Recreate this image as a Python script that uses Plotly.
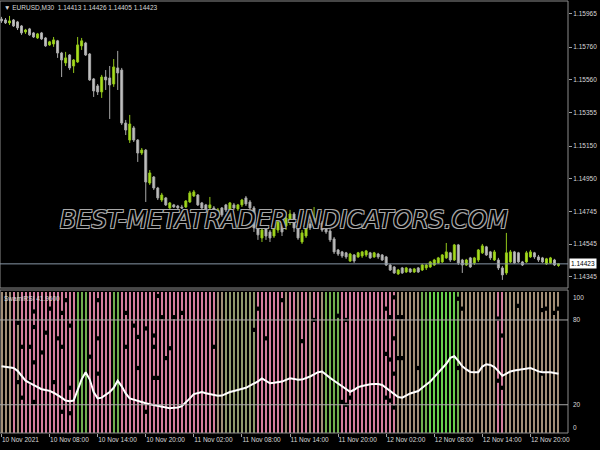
import plotly.graph_objects as go

# ---------------- data ----------------
opens = [1.15934,1.15928,1.15910,1.15928,1.15916,1.15891,1.15854,1.15873,1.15848,1.15817,
         1.15848,1.15817,1.15774,1.15780,1.15799,1.15724,1.15663,1.15712,1.15644,1.15669,
         1.15768,1.15786,1.15718,1.15564,1.15521,1.15484,1.15576,1.15570,1.15533,1.15632,
         1.15619,1.15292,1.15187,1.15262,1.15187,1.15107,1.15125,1.14922,1.14959,1.14891,
         1.14817,1.14830,1.14768,1.14787,1.14780,1.14774,1.14774,1.14805,1.14842,1.14848,
         1.14799,1.14787,1.14768,1.14768,1.14706,1.14768,1.14787,1.14756,1.14787,1.14762,
         1.14787,1.14830,1.14805,1.14768,1.14663,1.14583,1.14645,1.14620,1.14595,1.14632,
         1.14669,1.14657,1.14682,1.14731,1.14657,1.14558,1.14595,1.14669,1.14657,1.14682,
         1.14675,1.14663,1.14626,1.14577,1.14509,1.14497,1.14491,1.14441,1.14478,1.14466,
         1.14472,1.14478,1.14491,1.14466,1.14484,1.14478,1.14466,1.14416,1.14404,1.14361,
         1.14398,1.14373,1.14392,1.14373,1.14398,1.14385,1.14398,1.14404,1.14416,1.14429,
         1.14435,1.14460,1.14491,1.14447,1.14540,1.14447,1.14416,1.14460,1.14429,1.14447,
         1.14491,1.14528,1.14497,1.14447,1.14447,1.14398,1.14367,1.14435,1.14497,1.14491,
         1.14435,1.14435,1.14466,1.14491,1.14466,1.14460,1.14423,1.14429,1.14447,1.14413]
highs = [1.15947,1.15940,1.15953,1.15934,1.15922,1.15897,1.15873,1.15879,1.15854,1.15848,
         1.15854,1.15823,1.15799,1.15823,1.15805,1.15731,1.15731,1.15718,1.15687,1.15823,
         1.15817,1.15793,1.15724,1.15570,1.15533,1.15589,1.15619,1.15644,1.15687,1.15737,
         1.15632,1.15311,1.15342,1.15274,1.15193,1.15138,1.15132,1.15002,1.14965,1.14898,
         1.14861,1.14836,1.14805,1.14793,1.14787,1.14787,1.14817,1.14873,1.14879,1.14854,
         1.14805,1.14793,1.14836,1.14780,1.14768,1.14774,1.14793,1.14805,1.14799,1.14793,
         1.14824,1.14842,1.14817,1.14780,1.14682,1.14645,1.14657,1.14632,1.14669,1.14694,
         1.14682,1.14743,1.14756,1.14743,1.14669,1.14632,1.14669,1.14694,1.14774,1.14706,
         1.14688,1.14675,1.14639,1.14589,1.14515,1.14503,1.14497,1.14491,1.14484,1.14497,
         1.14503,1.14509,1.14497,1.14497,1.14491,1.14484,1.14472,1.14423,1.14410,1.14392,
         1.14404,1.14404,1.14398,1.14398,1.14404,1.14423,1.14423,1.14441,1.14454,1.14466,
         1.14484,1.14552,1.14497,1.14546,1.14546,1.14454,1.14454,1.14466,1.14466,1.14515,
         1.14546,1.14534,1.14503,1.14509,1.14460,1.14410,1.14614,1.14509,1.14503,1.14497,
         1.14441,1.14503,1.14509,1.14497,1.14478,1.14466,1.14460,1.14466,1.14454,1.14426]
lows = [1.15910,1.15903,1.15897,1.15885,1.15866,1.15836,1.15842,1.15830,1.15817,1.15811,
        1.15805,1.15762,1.15768,1.15762,1.15694,1.15576,1.15644,1.15619,1.15601,1.15663,
        1.15743,1.15706,1.15552,1.15453,1.15465,1.15447,1.15496,1.15317,1.15515,1.15496,
        1.15280,1.15218,1.15169,1.15175,1.15052,1.15095,1.14805,1.14910,1.14879,1.14817,
        1.14805,1.14780,1.14762,1.14768,1.14762,1.14762,1.14768,1.14799,1.14836,1.14780,
        1.14756,1.14750,1.14756,1.14737,1.14694,1.14713,1.14743,1.14743,1.14756,1.14750,
        1.14774,1.14780,1.14756,1.14620,1.14571,1.14558,1.14571,1.14558,1.14583,1.14614,
        1.14595,1.14632,1.14663,1.14620,1.14571,1.14546,1.14583,1.14632,1.14645,1.14639,
        1.14620,1.14608,1.14558,1.14484,1.14472,1.14460,1.14454,1.14435,1.14429,1.14460,
        1.14460,1.14466,1.14454,1.14460,1.14454,1.14441,1.14410,1.14379,1.14361,1.14355,
        1.14361,1.14367,1.14367,1.14367,1.14367,1.14379,1.14385,1.14398,1.14410,1.14423,
        1.14429,1.14454,1.14435,1.14441,1.14416,1.14367,1.14410,1.14398,1.14416,1.14435,
        1.14484,1.14472,1.14447,1.14441,1.14385,1.14324,1.14355,1.14429,1.14423,1.14429,
        1.14410,1.14429,1.14460,1.14454,1.14435,1.14429,1.14416,1.14423,1.14410,1.14405]
closes = [1.15922,1.15910,1.15922,1.15891,1.15879,1.15848,1.15866,1.15836,1.15823,1.15842,
          1.15811,1.15768,1.15793,1.15805,1.15724,1.15681,1.15694,1.15632,1.15681,1.15774,
          1.15799,1.15712,1.15558,1.15490,1.15484,1.15576,1.15558,1.15527,1.15638,1.15601,
          1.15292,1.15249,1.15286,1.15187,1.15107,1.15125,1.14928,1.14984,1.14891,1.14830,
          1.14848,1.14787,1.14799,1.14774,1.14768,1.14768,1.14811,1.14861,1.14867,1.14787,
          1.14768,1.14756,1.14787,1.14743,1.14756,1.14725,1.14756,1.14799,1.14768,1.14787,
          1.14817,1.14793,1.14768,1.14645,1.14602,1.14632,1.14595,1.14583,1.14657,1.14682,
          1.14620,1.14706,1.14731,1.14645,1.14583,1.14614,1.14657,1.14645,1.14706,1.14663,
          1.14632,1.14620,1.14571,1.14497,1.14484,1.14472,1.14466,1.14484,1.14441,1.14491,
          1.14497,1.14503,1.14460,1.14491,1.14466,1.14447,1.14416,1.14385,1.14367,1.14385,
          1.14367,1.14398,1.14373,1.14392,1.14373,1.14416,1.14416,1.14435,1.14447,1.14460,
          1.14478,1.14497,1.14447,1.14540,1.14429,1.14416,1.14447,1.14404,1.14460,1.14509,
          1.14534,1.14478,1.14460,1.14497,1.14398,1.14355,1.14491,1.14497,1.14429,1.14435,
          1.14416,1.14491,1.14497,1.14466,1.14447,1.14435,1.14454,1.14460,1.14416,1.14423]

swami_rsi = [47.3,47.0,46.5,46.0,44.0,40.5,37.0,35.5,34.0,32.0,
             31.0,30.5,29.8,28.5,27.0,25.0,23.0,22.5,23.0,30.0,
             38.0,43.0,38.0,29.0,24.5,25.0,27.3,29.0,32.0,37.0,
             33.0,28.0,24.5,23.5,22.5,21.8,21.0,20.3,19.8,19.2,
             18.6,17.9,17.6,17.8,18.1,19.0,21.5,24.5,27.5,28.5,
             29.0,28.2,27.5,27.0,26.3,26.5,27.8,29.0,29.7,30.5,
             31.2,32.0,33.5,34.8,36.5,38.6,37.0,35.2,35.5,35.8,
             36.4,37.6,38.7,38.3,37.7,37.8,38.8,40.0,41.5,43.0,
             43.5,41.0,39.0,37.0,35.0,33.5,31.2,29.2,30.6,32.5,
             33.3,34.0,34.5,34.6,34.6,34.0,32.0,29.8,27.5,25.5,
             25.0,26.5,28.0,28.8,29.7,32.0,34.2,36.5,39.5,42.7,
             46.0,49.0,53.2,54.3,51.0,47.2,45.0,43.2,43.0,43.0,
             47.0,48.7,48.2,46.6,43.8,40.5,42.0,43.6,44.2,44.7,
             45.1,45.5,46.0,44.8,43.6,43.0,43.0,43.0,42.4,41.96]

# stripe colour class per bar: P pink, T tan, O olive, G green, L lime
stripe_codes = ("TTT" "P" "T" "PPPPPPPPPPPPPP" "GGG" "PPPPPP" "GG"
                "PPPPPPPPPPPPPPPPPPPPPPPP" "TT" "OOOOOOOO" "PPPPPP" "PTPPTPPTPPT"
                "GGGG" "PPPPPPPPPPPPPP" "TTTTTT" "GG" "LLLLLLL" "G" "TTTTTTTTT" "PP"
                "TTTTTTTTTTTTTT")

# black gaps in the stripes (bar index, level)
gap_bars = [16, 24, 8, 12, 15, 17, 4, 8, 11, 14, 5, 7, 15, 10, 8, 22, 4, 7, 13, 17,
            5, 8, 15, 17, 39, 40, 43, 45, 31, 33, 36, 34, 38, 31, 38, 42, 41, 34, 38, 24,
            24, 36, 39, 98, 96, 97, 99, 100, 98, 96, 97, 99, 100, 98, 96, 97, 98, 114, 115, 129,
            135, 136, 138, 139, 124, 125, 124, 125, 114, 135, 104, 64, 63, 66, 53, 70, 75, 78,
            84, 86, 85, 86, 87]
gap_levels = [94, 94, 86, 88, 85, 76, 78, 75, 71, 67, 61, 61, 61, 57, 50, 54, 36, 36, 36, 32,
              25, 22, 15, 14, 97, 82, 82, 85, 85, 76, 74, 68, 69, 61, 61, 60, 53, 46, 39, 67,
              42, 15, 39, 96, 88, 82, 82, 82, 67, 56, 52, 53, 53, 42, 25, 23, 18, 95, 88, 90,
              87, 88, 85, 88, 81, 69, 37, 32, 46, 42, 46, 88, 73, 67, 61, 94, 65, 80,
              83, 80, 22, 20, 25]

time_tick_bars = [0, 12, 24, 36, 48, 60, 72, 84, 96, 108, 120, 132]
time_tick_labels = ["10 Nov 2021", "10 Nov 08:00", "10 Nov 14:00", "10 Nov 20:00",
                    "11 Nov 02:00", "11 Nov 08:00", "11 Nov 14:00", "11 Nov 20:00",
                    "12 Nov 02:00", "12 Nov 08:00", "12 Nov 14:00", "12 Nov 20:00"]
price_ticks = [1.15965, 1.15760, 1.15560, 1.15355, 1.15150, 1.14950, 1.14745, 1.14545, 1.14345]
rsi_levels = [80, 20]
rsi_labels = [100, 80, 20, 0]
last_price = 1.14423

# ---------------- styling ----------------
stripe_colors = {"P": "#d47e9d", "T": "#a28e78", "O": "#8f986c", "G": "#70ae4e", "L": "#68d04c"}
txt_col = "#d8d8d8"
fnt = "Liberation Sans"
fs = 6.5
n = len(closes)
bar_x = list(range(n))

fig = go.Figure()

fig.add_trace(go.Bar(
    x=bar_x, y=[100] * n, base=0, width=0.5,
    marker=dict(color=[stripe_colors[c] for c in stripe_codes], line=dict(width=0)),
    xaxis="x2", yaxis="y2", hoverinfo="skip"))

fig.add_trace(go.Scatter(
    x=gap_bars, y=gap_levels, mode="markers",
    marker=dict(symbol="square", size=4.2, color="black", line=dict(width=0)),
    xaxis="x2", yaxis="y2", hoverinfo="skip"))

fig.add_trace(go.Scatter(
    x=bar_x, y=swami_rsi, mode="lines", line=dict(color="white", width=2),
    xaxis="x2", yaxis="y2", hoverinfo="skip"))

fig.add_trace(go.Candlestick(
    x=bar_x, open=opens, high=highs, low=lows, close=closes,
    increasing=dict(line=dict(color="#93c81a", width=1), fillcolor="#aee21e"),
    decreasing=dict(line=dict(color="#a8a8a8", width=1), fillcolor="#c6c6c6"),
    whiskerwidth=0, xaxis="x", yaxis="y"))

xr = [-0.375, 141.375]
fig.update_layout(
    width=600, height=450,
    margin=dict(l=0, r=32, t=1, b=17),
    paper_bgcolor="black", plot_bgcolor="black",
    showlegend=False, bargap=0,
    xaxis=dict(domain=[0, 1], range=xr, anchor="y", showticklabels=False,
               showgrid=False, zeroline=False, rangeslider=dict(visible=False)),
    xaxis2=dict(domain=[0, 1], range=xr, anchor="y2", showgrid=False, zeroline=False,
                tickmode="array", tickvals=time_tick_bars, ticktext=time_tick_labels,
                ticks="outside", ticklen=3, tickcolor="#a0a0a0",
                ticklabelposition="outside right",
                tickfont=dict(family=fnt, size=fs, color=txt_col)),
    yaxis=dict(domain=[0.3356, 1], range=[1.14274, 1.16045], anchor="x", side="right",
               showgrid=False, zeroline=False, tickmode="array", tickvals=price_ticks,
               ticktext=[f"{p:.5f}" for p in price_ticks], ticks="outside", ticklen=3,
               tickcolor="#a0a0a0", tickfont=dict(family=fnt, size=fs, color=txt_col)),
    yaxis2=dict(domain=[0, 0.331], range=[0, 101.2], anchor="x2", side="right",
                showgrid=False, zeroline=False, showticklabels=False),
)

shapes = []
for yref in ["y", "y2"]:
    shapes.append(dict(type="rect", xref="x domain" if yref == "y" else "x2 domain",
                       yref=yref + " domain", x0=0, x1=1, y0=0, y1=1,
                       line=dict(color="#8c8c8c", width=1)))
for lv in rsi_levels:
    shapes.append(dict(type="line", xref="x2 domain", yref="y2", x0=0, x1=1, y0=lv, y1=lv,
                       line=dict(color="#a8a8a8", width=1)))
shapes.append(dict(type="line", xref="x domain", yref="y", x0=0, x1=1, y0=last_price,
                   y1=last_price, line=dict(color="#8796a6", width=1)))
fig.update_layout(shapes=shapes)

ann = []
ann.append(dict(xref="x domain", yref="y", x=1, y=last_price, xanchor="left", yanchor="middle",
                xshift=1, text=f"{last_price:.5f}", showarrow=False, bgcolor="white",
                borderpad=1, font=dict(family=fnt, size=fs, color="black")))
ann.append(dict(xref="x domain", yref="y domain", x=0, y=1, xanchor="left", yanchor="top",
                xshift=2, yshift=-1,
                text=f"\u25BC EURUSD,M30  {opens[-1]:.5f} {highs[-1]:.5f} {lows[-1]:.5f} {closes[-1]:.5f}",
                showarrow=False, font=dict(family=fnt, size=fs, color=txt_col)))
ann.append(dict(xref="x2 domain", yref="y2 domain", x=0, y=1, xanchor="left", yanchor="top",
                xshift=2, yshift=-3, text=f"SwamiRSI {swami_rsi[-1]:.4f}",
                showarrow=False, font=dict(family=fnt, size=fs, color=txt_col)))
for v in rsi_labels:
    ya = "top" if v == 100 else ("bottom" if v == 0 else "middle")
    ann.append(dict(xref="x2 domain", yref="y2", x=1, y=v, xanchor="left", yanchor=ya,
                    xshift=3, text=str(v), showarrow=False,
                    font=dict(family=fnt, size=fs, color=txt_col)))
ann.append(dict(xref="x domain", yref="y", x=0.5, y=1.14693, xanchor="center", yanchor="middle",
                text="<i>BEST-METATRADER-INDICATORS.COM</i>", showarrow=False,
                font=dict(family="DejaVu Sans", size=24, color="black",
                          shadow="-1px -1px 0 #a8a8a8, 1px -1px 0 #a8a8a8, -1px 1px 0 #a8a8a8, 1px 1px 0 #a8a8a8")))
fig.update_layout(annotations=ann)

fig.write_html("out.html", config={"displayModeBar": False},
               post_script="document.body.style.margin='0px';document.body.style.background='black';")
